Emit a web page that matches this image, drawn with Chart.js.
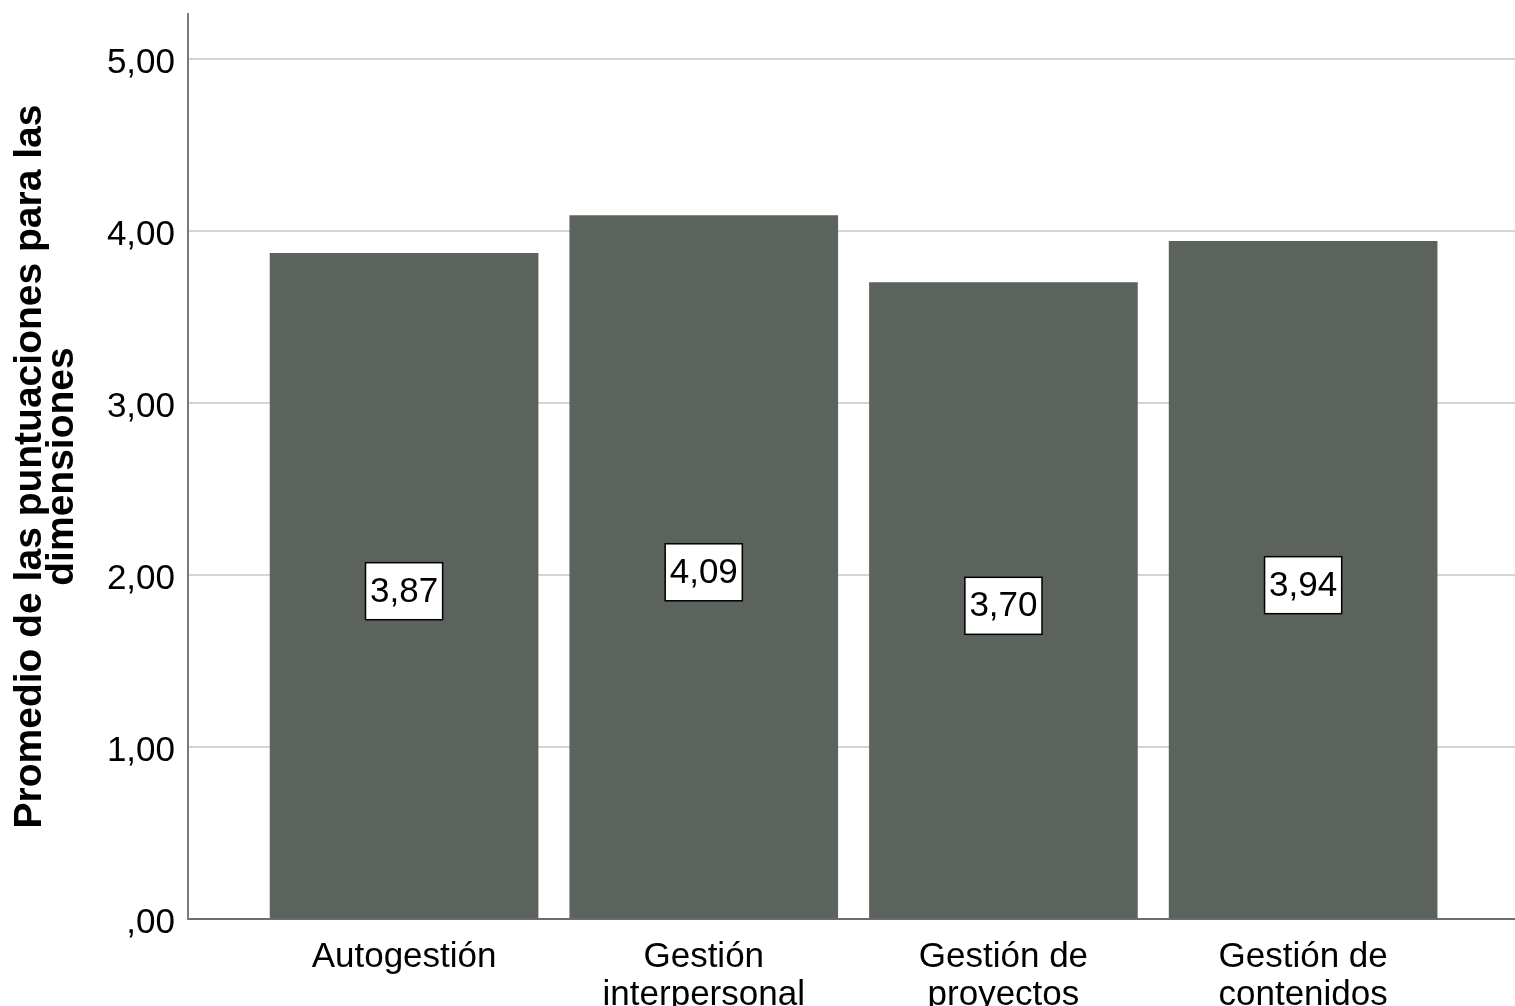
<!DOCTYPE html>
<html>
<head>
<meta charset="utf-8">
<script src="https://cdn.jsdelivr.net/npm/chart.js@4.4.0/dist/chart.umd.min.js"></script>
<style>
  html, body { margin: 0; padding: 0; background: #ffffff; }
  #wrap { width: 1515px; height: 1006px; position: relative; }
</style>
</head>
<body>
<div id="wrap"><canvas id="c"></canvas></div>
<script>
const categories = [["Autogestión"], ["Gestión", "interpersonal"], ["Gestión de", "proyectos"], ["Gestión de", "contenidos"]];
const positions = [0, 1, 2, 3];
const values = [3.87, 4.09, 3.70, 3.94];
const yTicks = [0, 1, 2, 3, 4, 5];
const yTickLabels = [",00", "1,00", "2,00", "3,00", "4,00", "5,00"];
const yTitle = ["Promedio de las puntuaciones para las", "dimensiones"];

const FONT = "'Liberation Sans', Arial, sans-serif";
const BAR = "#5b635c";

function fmt(v) { return v.toFixed(2).replace('.', ','); }

const labelPlugin = {
  id: 'boxLabels',
  afterDatasetsDraw(chart) {
    const ctx = chart.ctx;
    const meta = chart.getDatasetMeta(0);
    const ys = chart.scales.y;
    ctx.save();
    ctx.font = "35px " + FONT;
    ctx.textAlign = 'center';
    ctx.textBaseline = 'middle';
    meta.data.forEach((el, i) => {
      const v = values[i];
      const txt = fmt(v);
      const cx = el.x;
      const cy = ys.getPixelForValue(v / 2) + 5;
      const w = ctx.measureText(txt).width + 9;
      const h = 57;
      ctx.fillStyle = '#ffffff';
      ctx.fillRect(cx - w / 2, cy - h / 2, w, h);
      ctx.strokeStyle = '#000000';
      ctx.lineWidth = 1.5;
      ctx.strokeRect(cx - w / 2, cy - h / 2, w, h);
      ctx.fillStyle = '#000000';
      ctx.fillText(txt, cx, cy + 1);
    });
    ctx.restore();
  }
};

new Chart(document.getElementById('c'), {
  type: 'bar',
  data: {
    datasets: [{
      data: positions.map((p, i) => ({ x: p, y: values[i] })),
      backgroundColor: BAR,
      borderWidth: 0,
      barThickness: 268
    }]
  },
  options: {
    responsive: true,
    maintainAspectRatio: false,
    animation: false,
    events: [],
    layout: { padding: { top: 14, right: 0, left: 0, bottom: 0 } },
    plugins: { legend: { display: false }, tooltip: { enabled: false } },
    scales: {
      x: {
        type: 'linear',
        offset: false,
        min: -0.721,
        max: 3.707,
        grid: { display: false, drawTicks: false },
        border: { display: true, color: '#6e6e6e', width: 2 },
        afterBuildTicks(scale) { scale.ticks = positions.map(v => ({ value: v })); },
        afterFit(scale) { scale.height = 87; scale.paddingLeft = 0; scale.paddingRight = 0; },
        ticks: {
          autoSkip: false,
          maxRotation: 0,
          padding: 19,
          color: '#000000',
          font: { family: FONT, size: 35, lineHeight: 1.1 },
          callback(value) { return categories[positions.indexOf(value)]; }
        }
      },
      y: {
        min: 0,
        max: 5.262,
        afterBuildTicks(scale) { scale.ticks = yTicks.map(v => ({ value: v })); },
        afterFit(scale) { scale.width = 188; scale.paddingTop = 0; scale.paddingBottom = 0; },
        grid: { color: '#d4d4d4', lineWidth: 2, drawTicks: false },
        border: { display: true, color: '#7a7a7a', width: 2 },
        ticks: {
          padding: 13,
          labelOffset: 4,
          color: '#000000',
          font: { family: FONT, size: 35 },
          callback(value) { return yTickLabels[yTicks.indexOf(value)]; }
        },
        title: {
          display: true,
          text: yTitle,
          color: '#000000',
          font: { family: FONT, size: 39, weight: 'bold', lineHeight: 0.82 },
          padding: { top: 14, bottom: 0 }
        }
      }
    }
  },
  plugins: [labelPlugin]
});
</script>
</body>
</html>
